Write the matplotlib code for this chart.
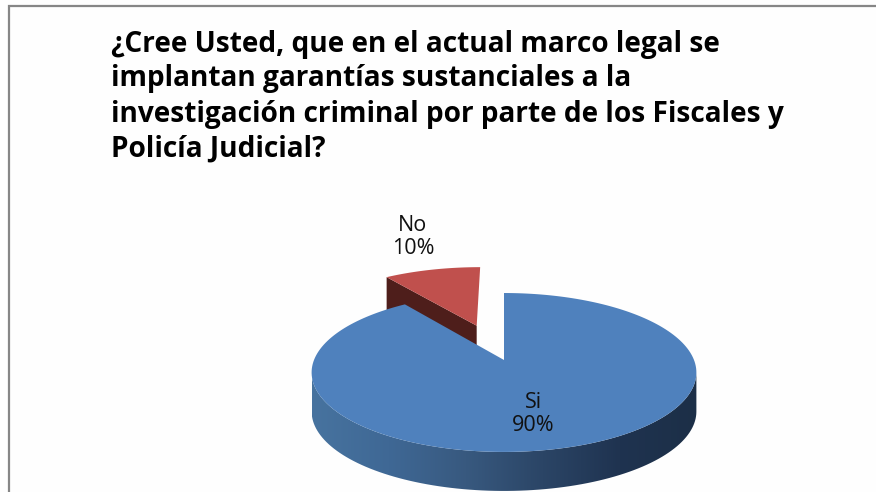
import numpy as np
import matplotlib
matplotlib.use('Agg')
import matplotlib.pyplot as plt
from matplotlib.colors import LinearSegmentedColormap
from matplotlib.patches import PathPatch, Polygon
from matplotlib.path import Path

# data
categories = ['Si', 'No']
shares = [90, 10]
title_lines = [
    '¿Cree Usted, que en el actual marco legal se',
    'implantan garantías sustanciales a la',
    'investigación criminal por parte de los Fiscales y',
    'Policía Judicial?',
]

# pie geometry, in pixels of the picture
APEX_X, APEX_Y = 504, 360
RX, RY, PERSP = 190, 77.5, -0.157
DEPTH = 39
EXPLODE = 0.50
W, H = 876, 492


def project(u, v):
    # perspective view of the unit circle
    d = 1 - PERSP * v
    return APEX_X + RX * u / d, APEX_Y - RY * v / d


def face(t0, t1, ox=0.0, oy=0.0):
    t = np.radians(np.linspace(t0, t1, 200))
    u = np.concatenate([[0], np.sin(t), [0]]) + ox
    v = np.concatenate([[0], np.cos(t), [0]]) + oy
    x, y = project(u, v)
    return np.column_stack([x, y])


fig = plt.figure(figsize=(W / 100, H / 100), dpi=100, facecolor='#fefefe')
ax = fig.add_axes([0, 0, 1, 1])
ax.set_axis_off()

# chart border, only the top and left edges are in the picture
ax.plot([W, 9, 9], [5.5, 5.5, H], color='#868686', lw=1.6, solid_joinstyle='miter')

# angles run clockwise from the top, Si first
si_end = 360 * shares[0] / sum(shares)
no_mid = np.radians((si_end + 360) / 2)
ox, oy = EXPLODE * np.sin(no_mid), EXPLODE * np.cos(no_mid)

# No slice
no_top = face(si_end, 360, ox, oy)
cut = np.array([no_top[0], no_top[1], no_top[1] + [0, DEPTH], no_top[0] + [0, DEPTH]])
ax.add_patch(Polygon(cut, closed=True, fc='#4e1e1b', ec='none', zorder=2))
ax.add_patch(Polygon(no_top, closed=True, fc='#c0504d', ec='none', zorder=3))

# Si slice, side wall with the shading running left to right
si_top = face(0, si_end)
arc = si_top[1:-1]
i_right, i_left = arc[:, 0].argmax(), arc[:, 0].argmin()
front = arc[i_right:i_left + 1]
wall = np.vstack([front, front[::-1] + [0, DEPTH]])
wall_path = Path(np.vstack([wall, wall[0]]), closed=True)
wall_patch = PathPatch(wall_path, fc='none', ec='none', transform=ax.transData)
ax.add_patch(wall_patch)
cmap = LinearSegmentedColormap.from_list(
    'wall', ['#47739f', '#3f6895', '#38597f', '#2b4566', '#1f3350', '#1c2f47'])
grad = ax.imshow(np.linspace(0, 1, 256)[None, :], cmap=cmap, aspect='auto',
                 extent=[front[:, 0].min(), front[:, 0].max(), H, 0], zorder=4)
grad.set_clip_path(wall_patch)
ax.add_patch(Polygon(si_top, closed=True, fc='#4f81bd', ec='none', zorder=5))

ax.set_xlim(0, W)
ax.set_ylim(H, 0)

# labels
label_pos = {'Si': (533, 414), 'No': (413, 237)}
for cat, share in zip(categories, shares):
    lx, ly = label_pos[cat]
    ax.text(lx, ly, f'{cat}\n{share}%', ha='center', va='center', fontsize=15.5,
            family='Open Sans', color='#111111', linespacing=1.12, zorder=6)

# title, one text per line
for line, base in zip(title_lines, [52, 86, 122, 157]):
    ax.text(111, base, line, ha='left', va='baseline', fontsize=20.2,
            family='Open Sans', fontweight='bold', color='black')

fig.savefig('out.png', dpi=100, facecolor=fig.get_facecolor())
